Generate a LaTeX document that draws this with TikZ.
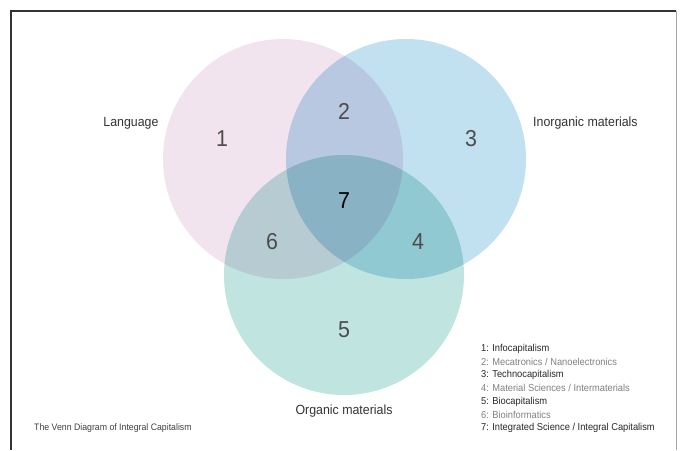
\documentclass[tikz,border=0pt]{standalone}
\usepackage{fontspec}
\setmainfont{Liberation Sans}[FakeStretch=0.93]
\begin{document}
\begin{tikzpicture}[x=1pt,y=-1pt,
  lbl/.style={font=\fontsize{13.3}{15}\selectfont, text=black!80},
  num/.style={font=\fontsize{23}{26}\selectfont, text=black!70},
  leg/.style={font=\fontsize{10}{11}\selectfont, anchor=west, inner sep=0pt},
  legdark/.style={leg, text=black!85},
  leglight/.style={leg, text=black!50}]
\definecolor{cpink}{HTML}{F2E4EE}
\definecolor{cblue}{HTML}{C1E0F0}
\definecolor{cgreen}{HTML}{C0E5E1}
\useasboundingbox (0,0) rectangle (682,450);
% frame
\draw[line width=1.8pt, black!80] (11,450) -- (11,11) -- (676,11);
\draw[line width=0.8pt, black!35] (676,11) -- (676,450);
% circles
\begin{scope}[blend group=multiply]
  \fill[cpink] (283,159) circle[radius=120];
  \fill[cblue] (406,159) circle[radius=120];
  \fill[cgreen] (344,275) circle[radius=120];
\end{scope}
% labels
\node[lbl] (lang) at (131,123) {Language};
\node[lbl, anchor=west, inner sep=0pt] (inorg) at (533,123) {Inorganic materials};
\node[lbl] (org) at (344,411) {Organic materials};
% numbers
\node[num] (n1) at (222,139) {1};
\node[num] (n2) at (344,111) {2};
\node[num] (n3) at (471,139) {3};
\node[num] (n4) at (418,242) {4};
\node[num] (n5) at (344,330) {5};
\node[num] (n6) at (272,242) {6};
\node[num, text=black] (n7) at (344,201) {7};
% legend
\node[legdark] (l1) at (481,348.5) {1: Infocapitalism};
\node[leglight] (l2) at (481,361.8) {2: Mecatronics / Nanoelectronics};
\node[legdark] (l3) at (481,375.1) {3: Technocapitalism};
\node[leglight] (l4) at (481,388.4) {4: Material Sciences / Intermaterials};
\node[legdark] (l5) at (481,401.7) {5: Biocapitalism};
\node[leglight] (l6) at (481,415) {6: Bioinformatics};
\node[legdark] (l7) at (481,428.3) {7: Integrated Science / Integral Capitalism};
% caption
\node[leg, font=\fontsize{9.4}{11}\selectfont, text=black!75] (cap) at (34,428) {The Venn Diagram of Integral Capitalism};
\end{tikzpicture}
\end{document}
